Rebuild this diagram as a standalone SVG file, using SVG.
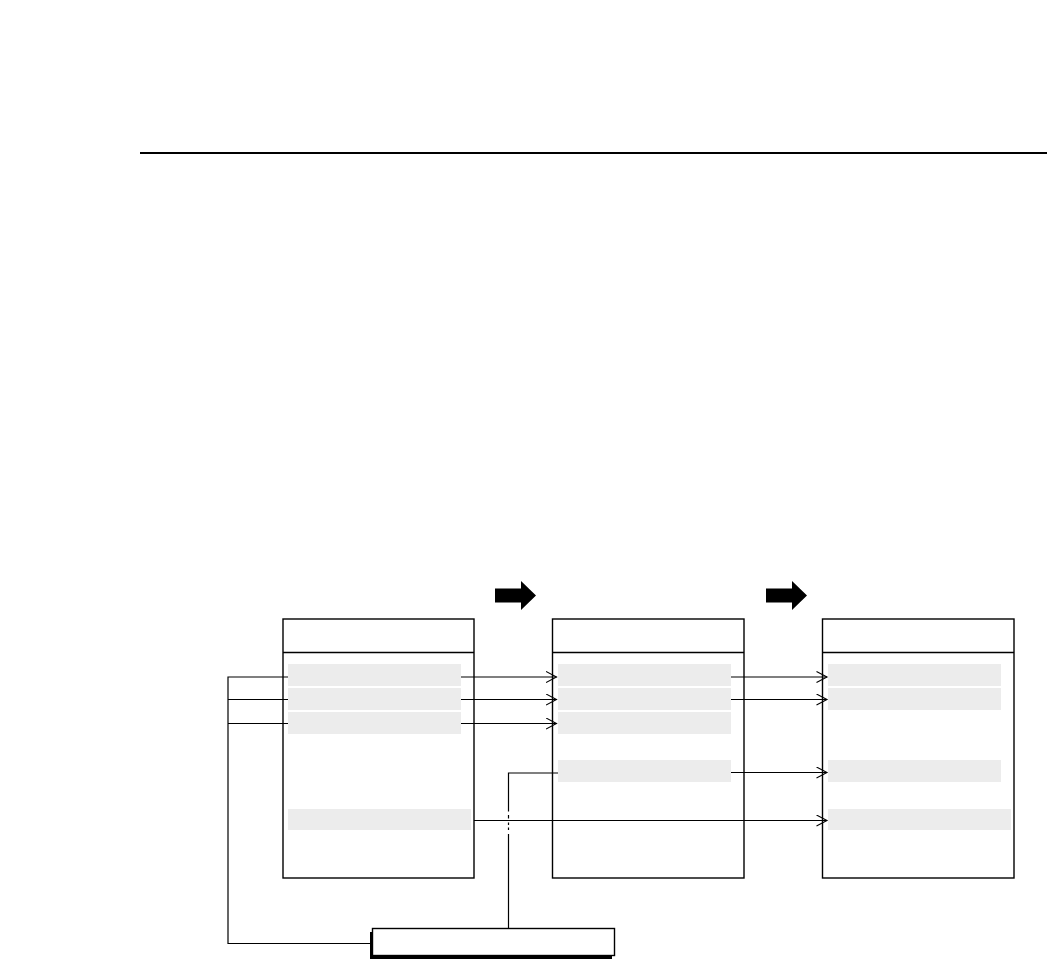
<svg xmlns="http://www.w3.org/2000/svg" width="1047" height="966" viewBox="0 0 1047 966">
<style>
.box{fill:#fff;stroke:#000;stroke-width:1.4}
.hdr{stroke:#000;stroke-width:1.4;fill:none}
.row{fill:#ececec;stroke:none}
.ln{stroke:#000;stroke-width:1.2;fill:none}
.blk{fill:#000;stroke:none}
</style>
<defs>
<marker id="chev" markerWidth="14" markerHeight="14" refX="11" refY="6" orient="auto" markerUnits="userSpaceOnUse">
<path d="M0.5,0.5 L11,6 L0.5,11.5" fill="none" stroke="#000" stroke-width="1.1"/>
</marker>
</defs>
<rect width="1047" height="966" fill="#fff"/>
<line x1="140" y1="153" x2="1047" y2="153" stroke="#000" stroke-width="2"/>

<g id="arrow1"><polygon class="blk" points="495,588.5 521,588.5 521,581 536,595.5 521,610 521,602.5 495,602.5"/></g>
<g id="arrow2"><polygon class="blk" points="766,588.5 792,588.5 792,581 807,595.5 792,610 792,602.5 766,602.5"/></g>

<g id="box1">
<rect class="box" x="283" y="619" width="191" height="259"/>
<line class="hdr" x1="283" y1="652.5" x2="474" y2="652.5"/>
<rect class="row" x="288" y="664" width="173" height="22"/>
<rect class="row" x="288" y="688" width="173" height="22"/>
<rect class="row" x="288" y="712" width="173" height="22"/>
<rect class="row" x="288" y="809" width="183" height="21"/>
</g>

<g id="box2">
<rect class="box" x="552.5" y="619" width="191.5" height="259"/>
<line class="hdr" x1="552.5" y1="652.5" x2="744" y2="652.5"/>
<rect class="row" x="558" y="664" width="173" height="22"/>
<rect class="row" x="558" y="688" width="173" height="22"/>
<rect class="row" x="558" y="712" width="173" height="22"/>
<rect class="row" x="558" y="760" width="173" height="22"/>
</g>

<g id="box3">
<rect class="box" x="822.5" y="619" width="191.5" height="259"/>
<line class="hdr" x1="822.5" y1="652.5" x2="1014" y2="652.5"/>
<rect class="row" x="828" y="664" width="173" height="22"/>
<rect class="row" x="828" y="688" width="173" height="22"/>
<rect class="row" x="828" y="760" width="173" height="22"/>
<rect class="row" x="828" y="809" width="183" height="21"/>
</g>

<g id="box4">
<rect class="blk" x="370" y="932" width="242" height="27"/>
<rect class="box" x="372.5" y="928.5" width="242" height="27"/>
</g>

<g id="connectors">
<path class="ln" d="M288,677 H228 V943.5 H370"/>
<path class="ln" d="M288,699.5 H228"/>
<path class="ln" d="M288,723.5 H228"/>
<line class="ln" x1="461" y1="677" x2="556.5" y2="677" marker-end="url(#chev)"/>
<line class="ln" x1="461" y1="699.5" x2="556.5" y2="699.5" marker-end="url(#chev)"/>
<line class="ln" x1="461" y1="723.5" x2="556.5" y2="723.5" marker-end="url(#chev)"/>
<line class="ln" x1="731" y1="677" x2="827" y2="677" marker-end="url(#chev)"/>
<line class="ln" x1="731" y1="699.5" x2="827" y2="699.5" marker-end="url(#chev)"/>
<line class="ln" x1="731" y1="772.5" x2="827" y2="772.5" marker-end="url(#chev)"/>
<line class="ln" x1="474" y1="820.5" x2="827" y2="820.5" marker-end="url(#chev)"/>
<path class="ln" d="M558,773 H508.5 V811.5"/>
<line class="ln" x1="508.5" y1="815" x2="508.5" y2="818.5"/>
<line class="ln" x1="508.5" y1="822.5" x2="508.5" y2="825"/>
<line class="ln" x1="508.5" y1="827.5" x2="508.5" y2="830"/>
<line class="ln" x1="508.5" y1="834" x2="508.5" y2="928.5"/>
</g>
</svg>
